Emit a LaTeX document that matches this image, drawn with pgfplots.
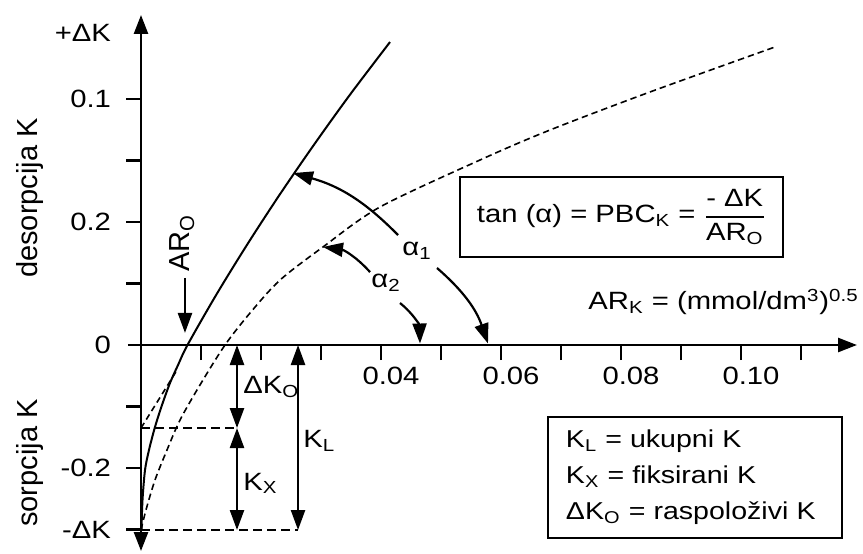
\documentclass[border=0pt]{standalone}
\usepackage{fontspec}
\setmainfont{Liberation Sans}[FakeStretch=1.17]
\newfontfamily\plainfont{Liberation Sans}
\usepackage{pgfplots}
\pgfplotsset{compat=1.18}
\usetikzlibrary{arrows.meta}
\newcommand\sub[1]{\textsubscript{#1}}
\newcommand\fA{\fontsize{12.5}{15}\selectfont}
\newcommand\fB{\fontsize{12.2}{18}\selectfont}
\newcommand\fR{\plainfont\fontsize{14.5}{17}\selectfont}
\begin{document}
\begin{tikzpicture}[
  tip/.style={-{Triangle[length=10pt,width=7pt]}},
  dtip/.style={{Triangle[length=10pt,width=7pt]}-{Triangle[length=10pt,width=7pt]}}]
\begin{axis}[
  scale only axis, width=364.5pt, height=268pt,
  xmin=-0.00217, xmax=0.11933, ymin=-0.16748, ymax=0.26829,
  axis lines=middle, clip=false,
  axis line style={line width=1.3pt, black},
  every inner x axis line/.append style={-{Triangle[length=9.5pt,width=7pt]}},
  every inner y axis line/.append style={{Triangle[length=9.5pt,width=7pt]}-{Triangle[length=9.5pt,width=7pt]}},
  tick align=outside, major tick length=7.5pt,
  tick style={line width=1.3pt, black},
  xtick={0.01,0.02,0.03,0.04,0.05,0.06,0.07,0.08,0.09,0.10,0.11},
  xticklabels={,,,0.04,,0.06,,0.08,,0.10,},
  ytick={-0.15,-0.10,-0.05,0.05,0.10,0.15,0.20},
  yticklabels={-ΔK,-0.2,,,0.2,,0.1},
  extra y ticks={0,0.2537},
  extra y tick labels={0,+ΔK},
  extra tick style={major tick style={draw=none}},
  hide obscured y ticks=false,
  ticklabel style={font=\fA},
  xticklabel style={xshift=5pt},
  yticklabel style={xshift=-4pt},
]
% measured curve (solid)
\addplot[line width=1pt, smooth, black] coordinates {
  (0.00008,-0.1504) (0.00025,-0.1260) (0.00067,-0.1016) (0.00133,-0.0854)
  (0.00233,-0.0667) (0.0035,-0.0488) (0.00483,-0.0309) (0.00617,-0.0163)
  (0.00775,0) (0.01252,0.04065) (0.01765,0.0813) (0.02308,0.1220)
  (0.0288,0.1626) (0.0348,0.2033) (0.0415,0.2463)};
% tangent extrapolation (short dashed)
\addplot[line width=0.8pt, dash pattern=on 3pt off 2pt, black] coordinates {
  (0,-0.0675) (0.0058,-0.0220)};
% second curve (dashed)
\addplot[line width=0.8pt, smooth, dash pattern=on 3.2pt off 2pt, black] coordinates {
  (0,-0.1504) (0.00083,-0.1341) (0.00233,-0.1098) (0.00433,-0.0854)
  (0.0065,-0.0610) (0.00983,-0.0325) (0.0140,0) (0.01817,0.0260)
  (0.02317,0.0528) (0.03033,0.0797) (0.03983,0.1122) (0.0565,0.1504)
  (0.06817,0.1748) (0.08483,0.2057) (0.10567,0.2423)};
% horizontal dashed levels
\draw[line width=1.2pt, dash pattern=on 4.5pt off 2.5pt] (axis cs:0,-0.0675) -- (axis cs:0.016,-0.0675);
\draw[line width=1.2pt, dash pattern=on 4.5pt off 2.5pt] (axis cs:0,-0.1504) -- (axis cs:0.02617,-0.1504);
% double arrows
\draw[line width=1.2pt, dtip] (axis cs:0.016,0) -- (axis cs:0.016,-0.0675);
\draw[line width=1.2pt, dtip] (axis cs:0.016,-0.0675) -- (axis cs:0.016,-0.1504);
\draw[line width=1.2pt, dtip] (axis cs:0.02617,0) -- (axis cs:0.02617,-0.1504);
\node[font=\fA, anchor=base west, inner sep=0pt] at (axis cs:0.017,-0.0398) {ΔK\sub{O}};
\node[font=\fA, anchor=base west, inner sep=0pt] at (axis cs:0.017,-0.1179) {K\sub{X}};
\node[font=\fA, anchor=base west, inner sep=0pt] at (axis cs:0.027,-0.0837) {K\sub{L}};
% AR_O
\draw[line width=1.2pt, tip] (axis cs:0.00733,0.0545) -- (axis cs:0.00733,0.0098);
\node[font=\fR, rotate=90, inner sep=0pt] at (axis cs:0.00683,0.0829) {AR\sub{O}};
% alpha arcs
\draw[line width=1.1pt, tip] (axis cs:0.04283,0.0894) to[bend right=15] (axis cs:0.02533,0.1398);
\draw[line width=1.1pt, tip] (axis cs:0.04933,0.0626) to[bend left=15] (axis cs:0.05783,0.0012);
\draw[line width=1.1pt, tip] (axis cs:0.03817,0.0593) to[bend right=20] (axis cs:0.03033,0.0797);
\draw[line width=1.1pt, tip] (axis cs:0.04317,0.0341) to[bend left=25] (axis cs:0.0465,0.0012);
\node[font=\fA] at (axis cs:0.0460,0.0764) {α\sub{1}};
\node[font=\fA] at (axis cs:0.04083,0.0504) {α\sub{2}};
% boxes
\node[draw, line width=1pt, fill=white, font=\fA, minimum width=161.5pt, minimum height=40pt, inner sep=2pt]
  at (axis cs:0.08008,0.1041)
  {tan (α) = PBC\sub{K} = $\displaystyle{\mbox{- ΔK}\above 0.9pt \mbox{AR\sub{O}}}$};
\node[draw, line width=1pt, fill=white, font=\fB, text width=129pt, inner xsep=9pt, inner ysep=0pt,
  minimum height=60.5pt, align=left] at (axis cs:0.09233,-0.1077)
  {K\sub{L} = ukupni K\\K\sub{X} = fiksirani K\\ΔK\sub{O} = raspoloživi K};
% axis labels
\node[font=\fA, anchor=base east, inner sep=0pt] at (axis cs:0.11967,0.02846)
  {AR\sub{K} = (mmol/dm\textsuperscript{3})\textsuperscript{0.5}};
\node[font=\fR, rotate=90, inner sep=0pt] at (axis cs:-0.0185,0.1195) {desorpcija K};
\node[font=\fR, rotate=90, inner sep=0pt] at (axis cs:-0.0185,-0.0959) {sorpcija K};
\coordinate (BBa) at (axis cs:-0.0235,-0.16911);
\coordinate (BBb) at (axis cs:0.12033,0.28049);
\end{axis}
\pgfresetboundingbox
\path[use as bounding box] (BBa) rectangle (BBb);
\end{tikzpicture}
\end{document}
